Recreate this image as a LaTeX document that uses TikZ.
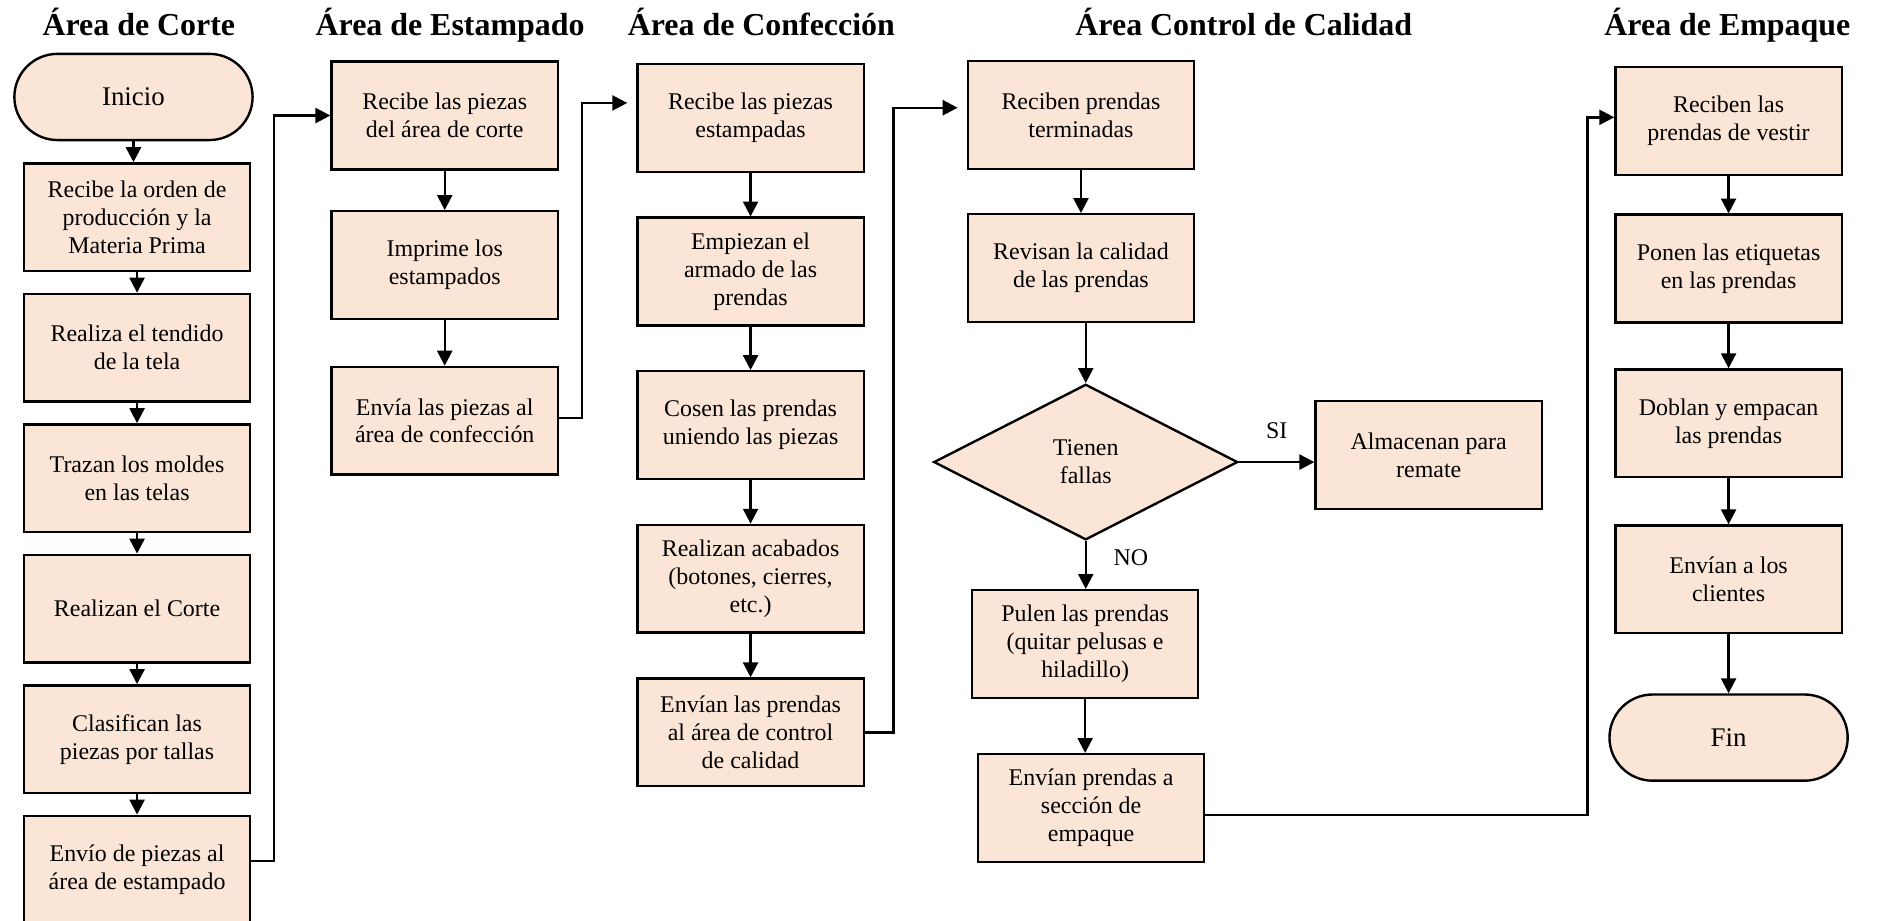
\documentclass[tikz,border=0pt]{standalone}
\usepackage{fontspec}
\setmainfont{Liberation Serif}
\usetikzlibrary{arrows.meta,positioning,shapes.geometric}
\definecolor{peach}{RGB}{251,229,214}

\begin{document}
\begin{tikzpicture}[x=0.6pt,y=-0.6pt,>={Triangle[width=7.5pt,length=7.5pt]},line width=1.2pt,
  font=\fontsize{12}{14}\selectfont,
  area/.style={anchor=base,font=\bfseries\fontsize{16}{19}\selectfont},
  proc/.style={draw,fill=peach,minimum width=113.4pt,minimum height=54pt,align=center,inner sep=2pt},
  term/.style={proc,minimum width=119.4pt,minimum height=43.2pt,rounded corners=21.6pt,font=\fontsize{13.5}{16}\selectfont},
  decision/.style={proc,diamond,aspect=2,minimum width=152.4pt,minimum height=78pt}]

                \useasboundingbox (0,0) rectangle (1568,769);
                \clip (0,0) rectangle (1568,769);

                \node[area] (h1) at (116,30) {Área de Corte};
                \node[area] (h2) at (376,30) {Área de Estampado};
                \node[area] (h3) at (636,30) {Área de Confección};
                \node[area] (h4) at (1039,30) {Área Control de Calidad};
                \node[area] (h5) at (1443,30) {Área de Empaque};

                \node[term] (ini) at (111.5,81) {Inicio};
                \node[proc] (a1) at (114.5,181.5) {Recibe la orden de\\producción y la\\Materia Prima};
                \node[proc] (a2) [below=10.2pt of a1] {Realiza el tendido\\de la tela};
                \node[proc] (a3) [below=10.2pt of a2] {Trazan los moldes\\en las telas};
                \node[proc] (a4) [below=10.2pt of a3] {Realizan el Corte};
                \node[proc] (a5) [below=10.2pt of a4] {Clasifican las\\piezas por tallas};
                \node[proc] (a6) [below=10.2pt of a5] {Envío de piezas al\\área de estampado};

                \node[proc] (e1) at (371.5,96.5) {Recibe las piezas\\del área de corte};
                \node[proc] (e2) [below=19.8pt of e1] {Imprime los\\estampados};
                \node[proc] (e3) [below=22.8pt of e2] {Envía las piezas al\\área de confección};

                \node[proc] (c1) at (627,98.5) {Recibe las piezas\\estampadas};
                \node[proc] (c2) [below=21.8pt of c1] {Empiezan el\\armado de las\\prendas};
                \node[proc] (c3) [below=21.8pt of c2] {Cosen las prendas\\uniendo las piezas};
                \node[proc] (c4) [below=21.8pt of c3] {Realizan acabados\\(botones, cierres,\\etc.)};
                \node[proc] (c5) [below=21.8pt of c4] {Envían las prendas\\al área de control\\de calidad};

                \node[proc] (q1) at (903,96) {Reciben prendas\\terminadas};
                \node[proc] (q2) [below=21.6pt of q1] {Revisan la calidad\\de las prendas};
                \node[decision] (dia) at (907,386) {Tienen\\fallas};
                \node[proc] (q3) at (1193.5,380) {Almacenan para\\remate};
                \node[proc] (q4) at (906.5,538) {Pulen las prendas\\(quitar pelusas e\\hiladillo)};
                \node[proc] (q5) at (911.5,675) {Envían prendas a\\sección de\\empaque};

                \node[proc] (p1) at (1444,101) {Reciben las\\prendas de vestir};
                \node[proc] (p2) [below=18.8pt of p1] {Ponen las etiquetas\\en las prendas};
                \node[proc] (p3) [below=22.4pt of p2] {Doblan y empacan\\las prendas};
                \node[proc] (p4) [below=23pt of p3] {Envían a los\\clientes};
                \node[term] (fin) [below=29.5pt of p4] {Fin};

                \foreach \a/\b in {ini/a1,a1/a2,a2/a3,a3/a4,a4/a5,a5/a6,e1/e2,e2/e3,c1/c2,c2/c3,c3/c4,c4/c5,
                                   q1/q2,q4/q5,p1/p2,p2/p3,p3/p4,p4/fin}
                    \draw[->] (\a.south) -- (\a.south |- \b.north);

                \draw[->] (q2.south -| dia.north) -- (dia.north);
                \draw[->] (dia.east) -- node[above=8pt] {SI} (dia.east -| q3.west);
                \draw[->] (dia.south) -- node[right=10pt,pos=0.35] {NO} (dia.south |- q4.north);

                \draw[->] ([yshift=4.2pt]a6.east) -- ++(19,0) |- (e1.west);
                \draw[->,shorten >=4.5pt] ([yshift=1.5pt]e3.east) -- ++(19,0) |- ([yshift=7.5pt]c1.west);
                \draw[->,shorten >=4.5pt] (c5.east) -- ++(24,0) |- ([yshift=3.6pt]q1.west);
                \draw[->] ([yshift=-3.6pt]q5.east) -- ++(319,0) |- ([yshift=1.8pt]p1.west);

            \end{tikzpicture}
\end{document}
